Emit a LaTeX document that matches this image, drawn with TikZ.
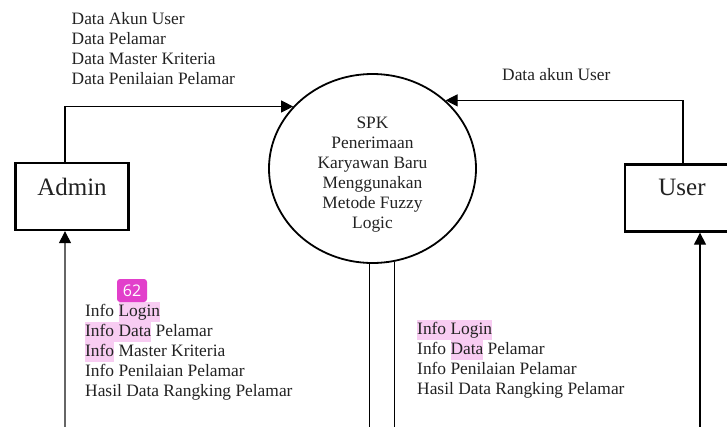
\documentclass[tikz,border=0pt]{standalone}
\usepackage{fontspec}
\setmainfont{Liberation Serif}
\newfontfamily\badgefont{Open Sans}
\usetikzlibrary{shapes.geometric,arrows.meta}
\definecolor{ink}{HTML}{222222}
\definecolor{hlpink}{RGB}{248,204,242}
\definecolor{badgepink}{HTML}{E23FCB}
% highlighted span, one line high, no extra horizontal room
\newcommand{\hlmark}[1]{{\setlength{\fboxsep}{0pt}\colorbox{hlpink}{\strut #1}}}

\begin{document}
\begin{tikzpicture}[x=1pt,y=-1pt,
  txt/.style={font=\fontsize{17.4}{20}\selectfont, text=ink, inner sep=0pt,
    align=left, anchor=north west},
  entity/.style={draw=black, line width=2.3pt, minimum width=113pt,
    minimum height=67pt, inner sep=0pt, text=ink,
    font=\fontsize{25}{28}\selectfont, text height=17pt},
  proc/.style={ellipse, draw=black, line width=1.8pt, minimum width=207pt,
    minimum height=189pt, inner sep=0pt},
  flow/.style={line width=1.1pt, -{Triangle[length=12pt,width=12pt]}},
  plain/.style={line width=1.1pt},
  badge/.style={fill=badgepink, rounded corners=3pt, text=white,
    font=\badgefont\fontsize{16}{16}\selectfont, minimum width=30pt,
    minimum height=23pt, inner sep=0pt}
]
\useasboundingbox (0,0) rectangle (727,426);
\clip (0,0) rectangle (727,426);

% process and external entities
\node[proc] (spk) at (372.5,168.5) {};
\node[font=\fontsize{17.4}{20}\selectfont, text=ink, align=center, inner sep=0pt,
  anchor=north] (spktext) at (372.5,114)
  {\strut SPK\\Penerimaan\\Karyawan Baru\\Menggunakan\\Metode Fuzzy\\Logic};
\node[entity, text depth=19.4pt] (admin) at (72,196.5) {Admin};
\node[entity, text depth=23pt, minimum width=114pt] (user) at (682,198) {User};

% ends of the flows
\coordinate (aTop) at (65,0);
\coordinate (uTop) at (683,0);
\coordinate (aBot) at (65,440);
\coordinate (uBot) at (700,440);
\coordinate (sBot) at (0,440);

% flows into the process
\draw[flow] (aTop |- admin.north) |- (spk.142);
\draw[flow] (uTop |- user.north) |- (spk.43);

% flows out of the process
\draw[plain] (spk.268) -- (spk.268 |- sBot);
\draw[plain] (spk.283) -- (spk.283 |- sBot);
\draw[flow, draw=black!60, -{Triangle[length=12pt,width=12pt,color=black]}]
  (aBot) -- (aBot |- admin.south);
\draw[flow] (uBot) -- (uBot |- user.south);

% flow labels
\node[txt] (inL) at (71.5,10)
  {\strut Data Akun User\\Data Pelamar\\Data Master Kriteria\\Data Penilaian Pelamar};
\node[txt] (inR) at (502,66) {\strut Data akun User};
\node[txt] (outL) at (85,302)
  {\strut Info \hlmark{Login}\\\hlmark{Info Data} Pelamar\\\hlmark{Info} Master Kriteria\\Info Penilaian Pelamar\\Hasil Data Rangking Pelamar};
\node[txt] (outR) at (417,320)
  {\hlmark{Info Login}\\Info \hlmark{Data} Pelamar\\Info Penilaian Pelamar\\Hasil Data Rangking Pelamar};
\node[badge] (note) at (132,290.5) {62};
\end{tikzpicture}
\end{document}
